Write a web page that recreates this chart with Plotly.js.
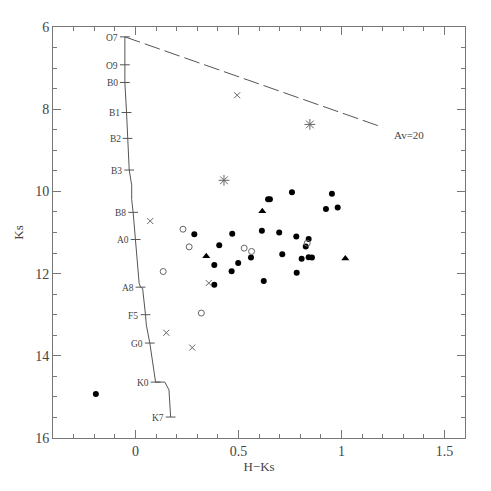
<!DOCTYPE html>
<html>
<head>
<meta charset="utf-8">
<script src="https://cdn.plot.ly/plotly-3.0.1.min.js"></script>
<style>html,body{margin:0;padding:0;background:#fff;}#chart{width:491px;height:491px;}</style>
</head>
<body>
<div id="chart"></div>
<script>
// Main-sequence locus (H-Ks, Ks) with spectral-type labels ("" = unlabeled vertex)
const msX = [-0.051, -0.051, -0.051, -0.043, -0.038, -0.030, -0.018, -0.018, -0.011, 0.001, 0.018, 0.025, 0.035, 0.049, 0.053, 0.070, 0.098, 0.143, 0.163, 0.171];
const msY = [6.24, 6.92, 7.35, 8.08, 8.71, 9.48, 9.85, 10.20, 10.51, 11.17, 12.23, 12.33, 12.36, 13.00, 13.25, 13.69, 14.64, 14.64, 14.83, 15.49];
const msType = ["O7", "O9", "B0", "B1", "B2", "B3", "", "", "B8", "A0", "", "A8", "", "F5", "", "G0", "K0", "", "", "K7"];

// Reddening vector Av = 20
const redX = [-0.051, 1.200];
const redY = [6.24, 8.44];
const redLabel = "Av=20";

// Sources by symbol class
const filledX = [0.286, 0.470, 0.614, 0.698, 0.407, 0.561, 0.713, 0.383, 0.499, 0.467, 0.644, 0.653, 0.760, 0.954, 0.925, 0.982, 0.781, 0.841, 0.827, 0.807, 0.841, 0.857, 0.783, 0.623, 0.383, -0.192];
const filledY = [11.04, 11.03, 10.96, 11.00, 11.31, 11.61, 11.53, 11.79, 11.74, 11.94, 10.19, 10.19, 10.02, 10.06, 10.43, 10.39, 11.10, 11.16, 11.34, 11.64, 11.60, 11.61, 11.98, 12.18, 12.27, 14.93];
const openX = [0.231, 0.261, 0.528, 0.564, 0.135, 0.320, 0.834];
const openY = [10.92, 11.35, 11.38, 11.46, 11.95, 12.96, 11.26];
const triX = [0.344, 0.616, 1.019];
const triY = [11.58, 10.48, 11.63];
const crossX = [0.494, 0.072, 0.356, 0.150, 0.276];
const crossY = [7.66, 10.72, 12.23, 13.44, 13.80];
const starX = [0.430, 0.847];
const starY = [9.73, 8.37];

const FONT = "Liberation Serif, Times New Roman, serif";
const TXT = "#444";
const LINE = "#777";

const tickIdx = msType.map((t, i) => t ? i : -1).filter(i => i >= 0);

const traces = [
  {x: msX, y: msY, mode: "lines", line: {color: "#555", width: 1}, hoverinfo: "skip"},
  {x: tickIdx.map(i => msX[i]), y: tickIdx.map(i => msY[i]), mode: "markers",
   marker: {symbol: "line-ew-open", size: 7, color: "#555", line: {color: "#555", width: 1}}, hoverinfo: "skip"},
  {x: redX, y: redY, mode: "lines", line: {color: "#555", width: 1, dash: "16px,5px"}, hoverinfo: "skip"},
  {x: filledX, y: filledY, mode: "markers", marker: {symbol: "circle", size: 6, color: "#000"}},
  {x: openX, y: openY, mode: "markers", marker: {symbol: "circle-open", size: 6, color: "#666", line: {width: 1}}},
  {x: triX, y: triY, mode: "markers", marker: {symbol: "triangle-up", size: 7, color: "#000"}},
  {x: crossX, y: crossY, mode: "markers", marker: {symbol: "x-thin-open", size: 6, color: "#666", line: {width: 1, color: "#666"}}},
  {x: starX, y: starY, mode: "markers", marker: {symbol: "asterisk-open", size: 9, color: "#666", line: {width: 1, color: "#666"}}}
];

const annotations = tickIdx.map(i => ({
  x: msX[i], y: msY[i], text: msType[i], showarrow: false,
  xanchor: "right", yanchor: "middle", xshift: -5, yshift: -1,
  font: {family: FONT, size: 9.5, color: TXT}
}));
annotations.push({x: redX[1], y: redY[1], text: redLabel, showarrow: false,
  xanchor: "left", yanchor: "middle", xshift: 9, yshift: -8,
  font: {family: FONT, size: 11, color: TXT}});

const axisCommon = {
  showline: true, linecolor: LINE, linewidth: 1, mirror: "ticks",
  ticks: "inside", ticklen: 8, tickwidth: 1, tickcolor: LINE,
  showgrid: false, zeroline: false,
  tickfont: {family: FONT, size: 14, color: TXT}
};

const layout = {
  width: 491, height: 491,
  margin: {l: 53, r: 26, t: 27, b: 53},
  paper_bgcolor: "#fff", plot_bgcolor: "#fff",
  showlegend: false,
  xaxis: Object.assign({}, axisCommon, {
    range: [-0.4, 1.6], dtick: 0.5, tick0: 0,
    minor: {dtick: 0.1, ticks: "inside", ticklen: 4, tickcolor: LINE, showgrid: false},
    title: {text: "H\u2212Ks", font: {family: FONT, size: 13, color: TXT}, standoff: 3}
  }),
  yaxis: Object.assign({}, axisCommon, {
    range: [16, 6], dtick: 2, tick0: 6,
    minor: {dtick: 0.5, ticks: "inside", ticklen: 4, tickcolor: LINE, showgrid: false},
    title: {text: "Ks", font: {family: FONT, size: 13, color: TXT}, standoff: 8}
  }),
  annotations: annotations
};

Plotly.newPlot("chart", traces, layout, {displayModeBar: false, staticPlot: true});
</script>
</body>
</html>
